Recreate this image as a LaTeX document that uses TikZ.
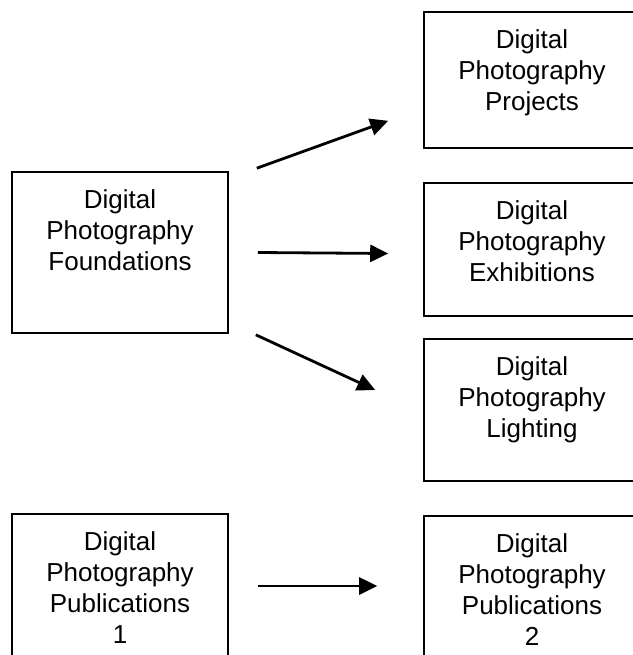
\documentclass[tikz,border=0pt]{standalone}
\usepackage{fontspec}
\setmainfont{Liberation Sans}
\usetikzlibrary{arrows.meta}

\begin{document}
\begin{tikzpicture}[
    x=1pt, y=-1pt,
    mybox/.style={draw, line width=1.6pt, minimum width=216pt, inner sep=0pt},
    boxtext/.style={anchor=north, align=center, inner sep=0pt, yshift=-18pt,
      font=\fontsize{26}{31}\selectfont},
    myarrow/.style={-{Triangle[length=18pt,width=17pt]}, line width=2.8pt}
  ]

     \useasboundingbox (0,0) rectangle (632,655);

      \node[mybox, minimum height=161pt] (found) at (120,252.5) {};
      \node[mybox, minimum height=136pt] (projects) at (532,80) {};
      \node[mybox, minimum height=133pt] (exhib) at (532,249.5) {};
      \node[mybox, minimum height=142pt] (light) at (532,410) {};
      \node[mybox, minimum height=160pt] (pubone) at (120,594) {};
      \node[mybox, minimum height=160pt] (pubtwo) at (532,596) {};

      \node[boxtext] (found-txt) at (found.north) {Digital\\Photography\\Foundations};
      \node[boxtext] (projects-txt) at (projects.north) {Digital\\Photography\\Projects};
      \node[boxtext] (exhib-txt) at (exhib.north) {Digital\\Photography\\Exhibitions};
      \node[boxtext] (light-txt) at (light.north) {Digital\\Photography\\Lighting};
      \node[boxtext] (pubone-txt) at (pubone.north) {Digital\\Photography\\Publications\\1};
      \node[boxtext] (pubtwo-txt) at (pubtwo.north) {Digital\\Photography\\Publications\\2};

      \draw[myarrow] ([xshift=28pt,yshift=3pt]found.north east) -- ([xshift=-35pt,yshift=28pt]projects.south west);
      \draw[myarrow] ([xshift=29pt]found.east) -- ([xshift=-35pt,yshift=-4pt]exhib.west);
      \draw[myarrow] ([xshift=27pt,yshift=-1pt]found.south east) -- ([xshift=-48pt,yshift=20pt]light.west);
      \draw[myarrow] ([xshift=29pt,yshift=8pt]pubone.east) -- ([xshift=-46pt,yshift=10pt]pubtwo.west);

  \end{tikzpicture}
\end{document}
